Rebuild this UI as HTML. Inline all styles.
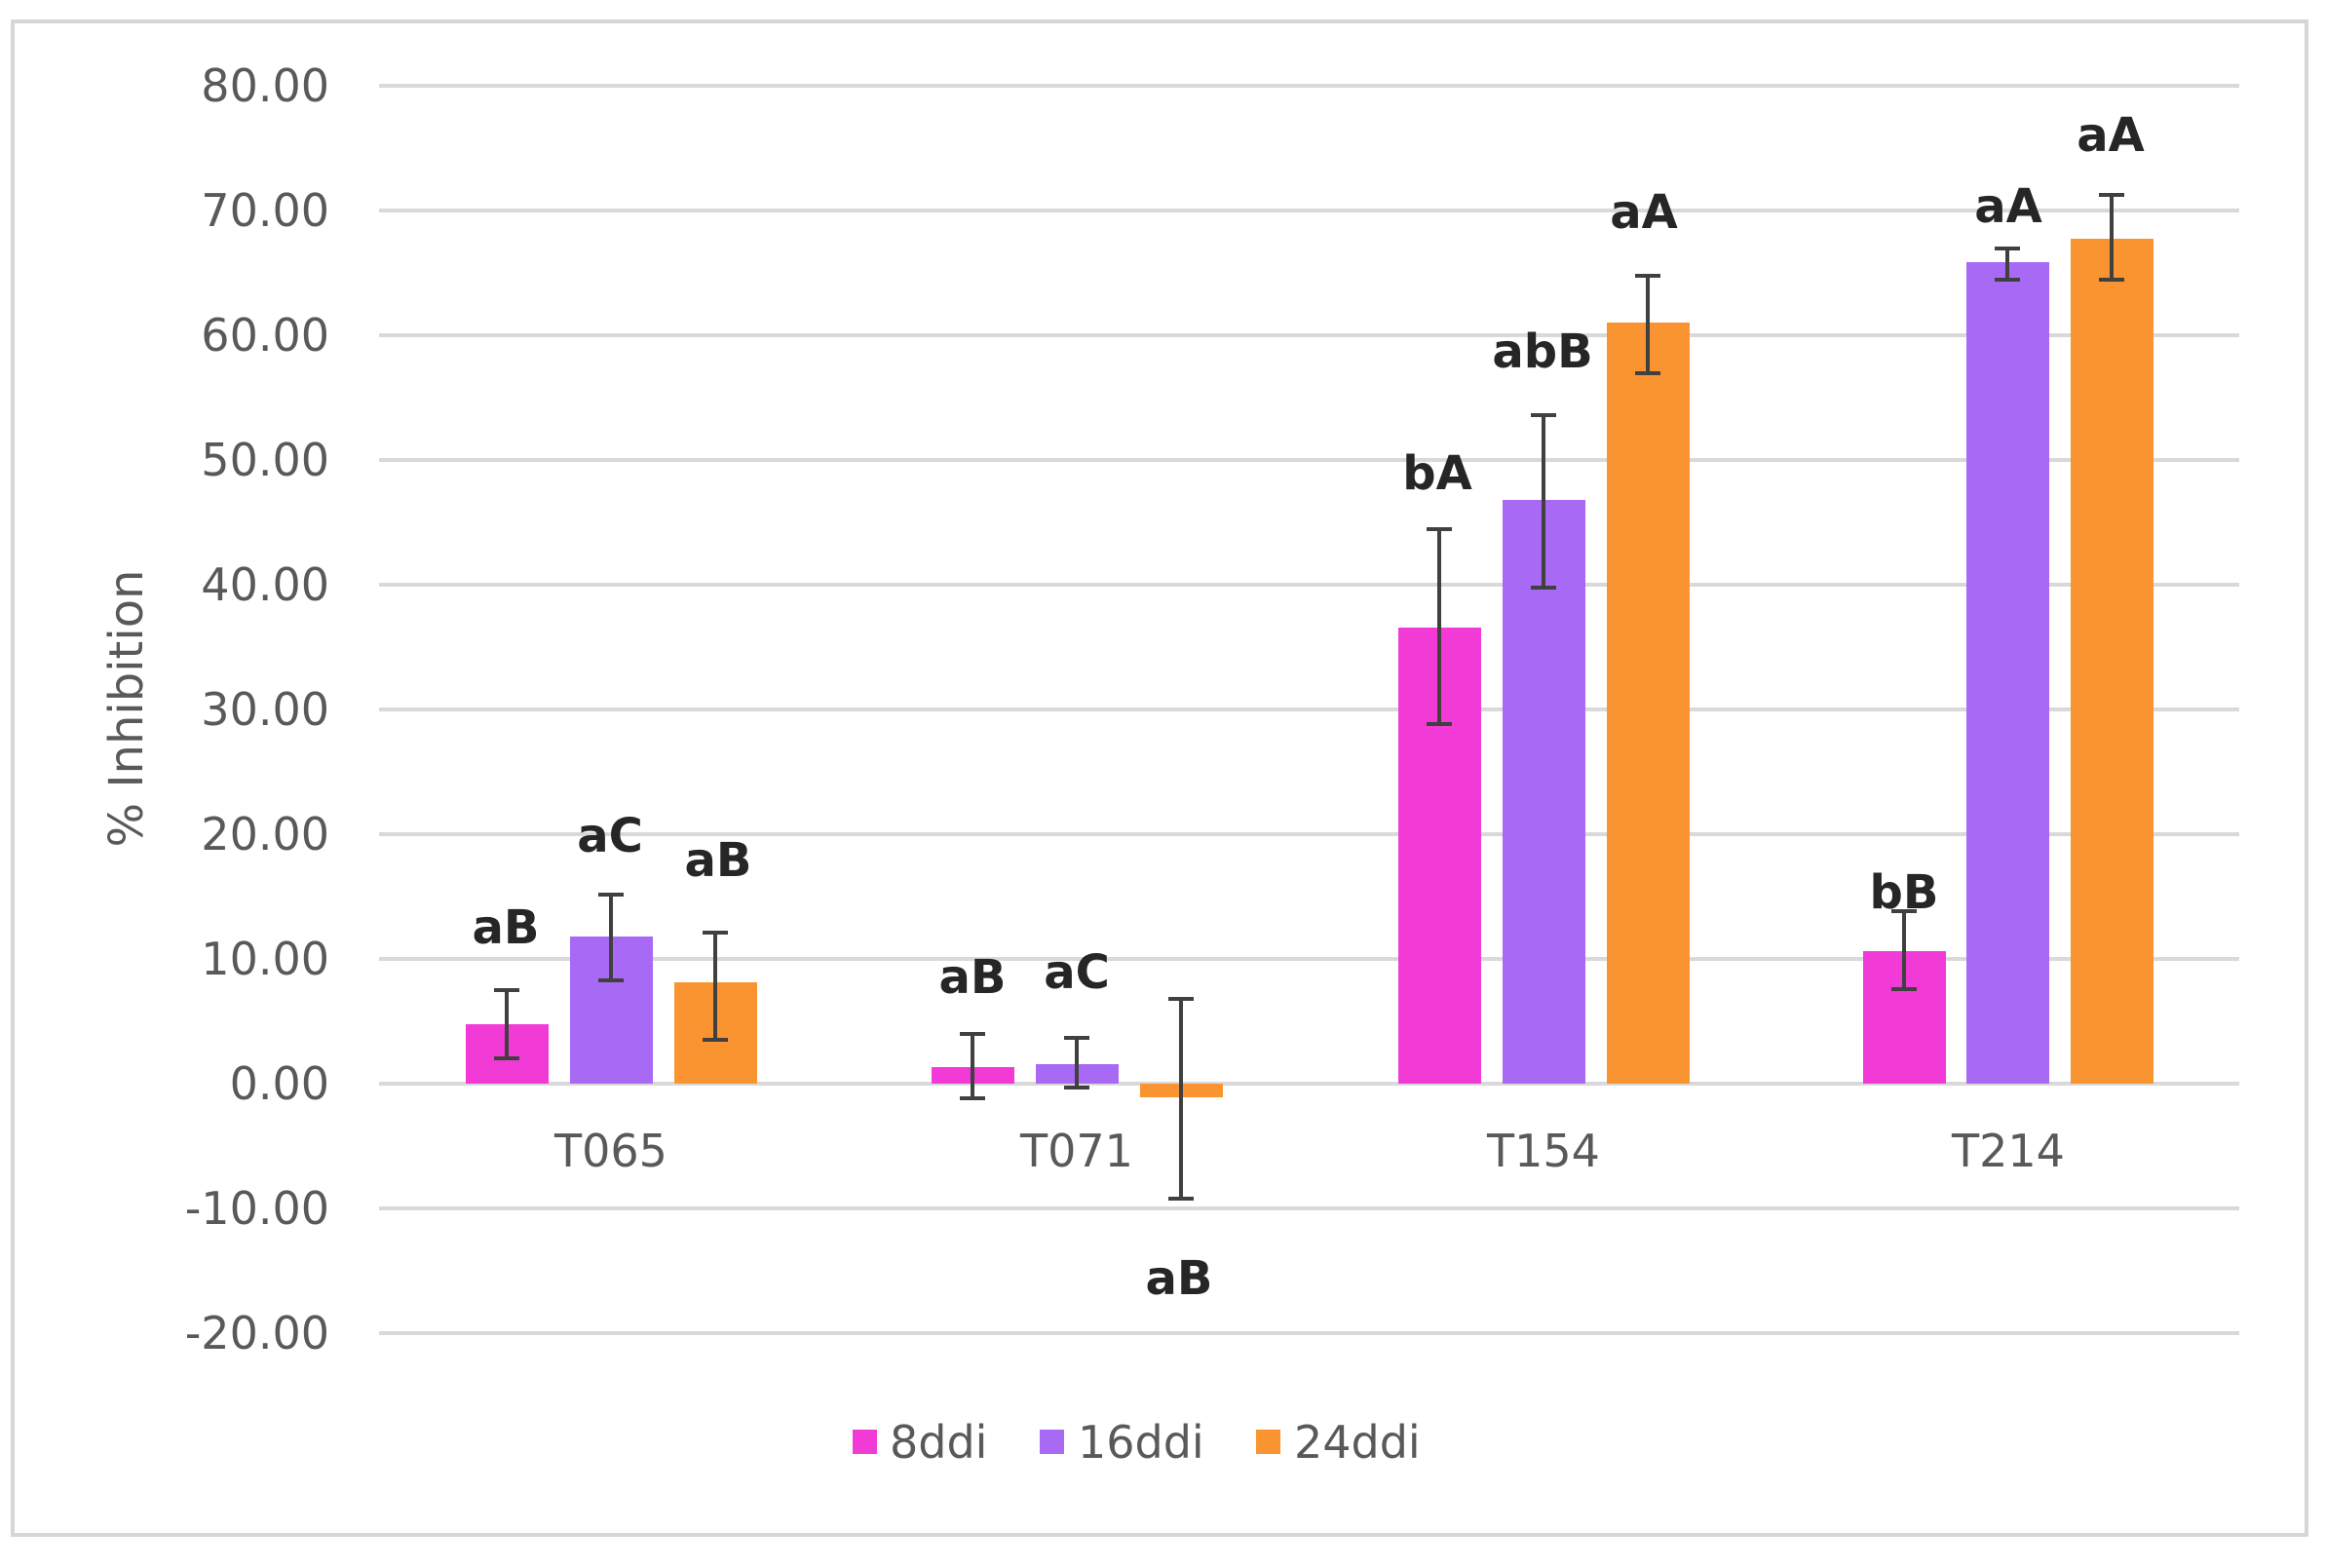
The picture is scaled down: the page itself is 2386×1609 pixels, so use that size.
<!DOCTYPE html>
<html><head><meta charset="utf-8"><style>html,body{margin:0;padding:0;background:#fff}</style></head>
<body>
<svg width="2386" height="1604" viewBox="0 0 2386 1604" xmlns="http://www.w3.org/2000/svg" font-family="'DejaVu Sans','Liberation Sans',sans-serif">
<rect x="0" y="0" width="2386" height="1604" fill="#fff"/>
<rect x="13" y="22" width="2354" height="1553" fill="#fff" stroke="#d6d6d6" stroke-width="4"/>
<g stroke="#d9d9d9" stroke-width="4">
<line x1="389" x2="2298" y1="88" y2="88"/><line x1="389" x2="2298" y1="216" y2="216"/>
<line x1="389" x2="2298" y1="344" y2="344"/><line x1="389" x2="2298" y1="472" y2="472"/>
<line x1="389" x2="2298" y1="600" y2="600"/><line x1="389" x2="2298" y1="728" y2="728"/>
<line x1="389" x2="2298" y1="856" y2="856"/><line x1="389" x2="2298" y1="984" y2="984"/>
<line x1="389" x2="2298" y1="1112" y2="1112"/><line x1="389" x2="2298" y1="1240" y2="1240"/>
<line x1="389" x2="2298" y1="1368" y2="1368"/>
</g>
<g font-size="46" fill="#595959" text-anchor="end">
<text x="338" y="104">80.00</text><text x="338" y="232">70.00</text><text x="338" y="360">60.00</text>
<text x="338" y="488">50.00</text><text x="338" y="616">40.00</text><text x="338" y="744">30.00</text>
<text x="338" y="872">20.00</text><text x="338" y="1000">10.00</text><text x="338" y="1128">0.00</text>
<text x="338" y="1256">-10.00</text><text x="338" y="1384">-20.00</text>
</g>
<text transform="translate(146,727) rotate(-90)" font-size="48" fill="#595959" text-anchor="middle">% Inhibition</text>
<g font-size="46" fill="#595959" text-anchor="middle">
<text x="627" y="1197">T065</text><text x="1105" y="1197">T071</text><text x="1584" y="1197">T154</text><text x="2061" y="1197">T214</text>
</g>
<g>
<rect x="478" y="1051" width="85" height="61" fill="#F23BD6"/>
<rect x="585" y="961" width="85" height="151" fill="#A86AF5"/>
<rect x="692" y="1008" width="85" height="104" fill="#FA9430"/>
<rect x="956" y="1095" width="85" height="17" fill="#F23BD6"/>
<rect x="1063" y="1092" width="85" height="20" fill="#A86AF5"/>
<rect x="1170" y="1112" width="85" height="14" fill="#FA9430"/>
<rect x="1435" y="644" width="85" height="468" fill="#F23BD6"/>
<rect x="1542" y="513" width="85" height="599" fill="#A86AF5"/>
<rect x="1649" y="331" width="85" height="781" fill="#FA9430"/>
<rect x="1912" y="976" width="85" height="136" fill="#F23BD6"/>
<rect x="2018" y="269" width="85" height="843" fill="#A86AF5"/>
<rect x="2125" y="245" width="85" height="867" fill="#FA9430"/>
</g>
<g stroke="#404040" stroke-width="4" fill="none">
<path d="M520 1016V1086M507 1016H533M507 1086H533"/>
<path d="M627 918V1006M614 918H640M614 1006H640"/>
<path d="M734 957V1067M721 957H747M721 1067H747"/>
<path d="M998 1061V1127M985 1061H1011M985 1127H1011"/>
<path d="M1105 1065V1116M1092 1065H1118M1092 1116H1118"/>
<path d="M1212 1025V1230M1199 1025H1225M1199 1230H1225"/>
<path d="M1477 543V743M1464 543H1490M1464 743H1490"/>
<path d="M1584 426V603M1571 426H1597M1571 603H1597"/>
<path d="M1691 283V383M1678 283H1704M1678 383H1704"/>
<path d="M1954 935V1015M1941 935H1967M1941 1015H1967"/>
<path d="M2060 255V287M2047 255H2073M2047 287H2073"/>
<path d="M2167 200V287M2154 200H2180M2154 287H2180"/>
</g>
<g font-size="48" fill="#262626" text-anchor="middle" font-weight="bold">
<text x="519" y="968">aB</text><text x="626" y="874">aC</text><text x="737" y="899">aB</text>
<text x="998" y="1019">aB</text><text x="1105" y="1014">aC</text><text x="1210" y="1328">aB</text>
<text x="1475" y="502">bA</text><text x="1583" y="377">abB</text><text x="1687" y="234">aA</text>
<text x="1954" y="932">bB</text><text x="2061" y="228">aA</text><text x="2166" y="155">aA</text>
</g>
<g font-size="46" fill="#595959">
<rect x="875" y="1467" width="25" height="25" fill="#F23BD6"/><text x="913" y="1496">8ddi</text>
<rect x="1067" y="1467" width="25" height="25" fill="#A86AF5"/><text x="1106" y="1496">16ddi</text>
<rect x="1289" y="1467" width="25" height="25" fill="#FA9430"/><text x="1328" y="1496">24ddi</text>
</g>
</svg>
</body></html>
